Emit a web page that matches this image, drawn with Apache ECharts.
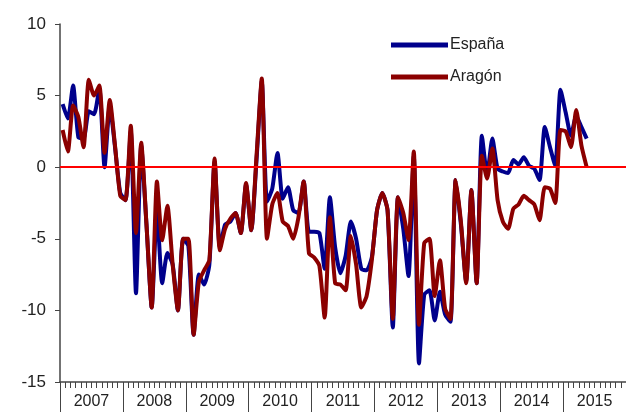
<!DOCTYPE html>
<html>
<head>
<meta charset="utf-8">
<script src="https://cdn.jsdelivr.net/npm/echarts@6/dist/echarts.min.js"></script>
<style>html,body{margin:0;padding:0;background:#fff;}#c{width:626px;height:412px;}</style>
</head>
<body>
<div id="c"></div>
<script>
var years = ['2007','2008','2009','2010','2011','2012','2013','2014','2015'];
var yTicks = [-15, -10, -5, 0, 5, 10];
var espana = [
  4.4, 3.4, 5.7, 2.1, 2.0, 3.9, 3.7, 5.5, 0.0, 4.3, 1.4, -1.8,
  -2.3, 2.5, -8.8, 1.5, -4.0, -9.8, -3.0, -8.1, -6.0, -6.8, -10.0, -5.0,
  -5.5, -11.7, -7.5, -8.2, -6.8, 0.4, -5.6, -4.0, -3.8, -3.2, -4.6, -1.2,
  -4.4, 0.5, 6.0, -2.4, -1.5, 1.0, -2.2, -1.4, -3.0, -3.2, -1.0, -4.5,
  -4.5, -4.6, -7.1, -2.1, -5.6, -7.4, -6.2, -3.8, -5.0, -7.1, -7.2, -6.3,
  -3.0, -1.8, -3.0, -11.2, -2.1, -4.3, -7.6, 0.8, -13.7, -8.9, -8.6, -10.7,
  -8.7, -10.3, -10.8, -0.9, -4.0, -8.0, -1.6, -8.1, 2.2, -0.5, 2.0, -0.1,
  -0.3, -0.4, 0.5, 0.2, 0.7, 0.1, -0.1, -0.9, 2.8, 1.4, 0.1, 5.4,
  3.8, 2.2, 3.6, 2.8, 2.0
];
var aragon = [
  2.6, 1.1, 4.3, 3.5, 1.4, 6.1, 5.0, 5.7, 1.0, 4.7, 1.5, -2.0,
  -2.3, 2.9, -4.6, 1.7, -4.0, -9.8, -1.0, -5.1, -2.7, -6.8, -10.0, -5.0,
  -5.0, -11.7, -8.0, -7.2, -6.5, 0.6, -5.8, -4.3, -3.6, -3.2, -4.6, -1.1,
  -4.4, 0.8, 6.2, -5.0, -2.6, -1.8, -3.8, -4.1, -5.0, -3.5, -1.0, -6.0,
  -6.3, -6.9, -10.5, -3.5, -8.1, -8.2, -8.6, -4.8, -6.8, -9.8, -9.0, -6.5,
  -3.0, -1.8, -3.0, -10.6, -2.1, -3.2, -5.1, 1.1, -11.0, -5.3, -5.0, -9.0,
  -6.5, -9.9, -10.6, -0.9, -3.8, -8.1, -1.6, -8.1, 0.8, -0.8, 1.3, -2.3,
  -3.8, -4.3, -2.9, -2.6, -2.0, -2.3, -2.6, -3.7, -1.4, -1.5, -2.5, 2.6,
  2.5, 1.4, 4.0, 1.5, 0.0
];
var months = [];
years.forEach(function (y) {
  for (var m = 1; m <= 12; m++) months.push(y + '-' + (m < 10 ? '0' + m : m));
});

var chart = echarts.init(document.getElementById('c'));
var font = 'Liberation Sans, Arial, sans-serif';
chart.setOption({
  animation: false,
  backgroundColor: '#ffffff',
  grid: { left: 60, right: -4, top: 24, bottom: 30 },
  legend: {
    orient: 'vertical', left: 386, top: 32, itemGap: 16,
    itemWidth: 57, itemHeight: 5, icon: 'rect',
    data: ['España', 'Aragón'],
    textStyle: { fontFamily: font, fontSize: 16, color: '#222', padding: [0, 0, 0, -3] }
  },
  xAxis: [{
    type: 'category', data: months, boundaryGap: true, position: 'bottom',
    axisLine: { onZero: false, lineStyle: { color: '#444', width: 1.5 } },
    axisTick: { show: true, interval: 0, length: 6, lineStyle: { color: '#444' } },
    axisLabel: { show: false }, splitLine: { show: false }
  }, {
    type: 'category', data: years, boundaryGap: true, position: 'bottom',
    axisLine: { show: false, onZero: false },
    axisTick: { show: true, length: 30, lineStyle: { color: '#444' } },
    axisLabel: { show: true, margin: 12, fontFamily: font, fontSize: 16, color: '#222' },
    splitLine: { show: false }
  }],
  yAxis: {
    type: 'value', min: yTicks[0], max: yTicks[yTicks.length - 1], interval: 5,
    axisLine: { show: true, onZero: false, lineStyle: { color: '#444', width: 1.5 } },
    axisTick: { show: true, length: 5, lineStyle: { color: '#444' } },
    axisLabel: { margin: 14, fontFamily: font, fontSize: 17, color: '#222' },
    splitLine: { show: false }
  },
  series: [{
    name: 'España', type: 'line', data: espana, xAxisIndex: 0,
    showSymbol: false, smooth: 0.2, z: 2,
    lineStyle: { color: '#00008c', width: 4 }, itemStyle: { color: '#00008c' }
  }, {
    name: 'Aragón', type: 'line', data: aragon, xAxisIndex: 0,
    showSymbol: false, smooth: 0.2, z: 3,
    lineStyle: { color: '#8b0000', width: 4 }, itemStyle: { color: '#8b0000' }
  }, {
    name: 'cero', type: 'line', data: [], xAxisIndex: 0, z: 5,
    markLine: {
      silent: true, symbol: 'none', label: { show: false },
      lineStyle: { color: '#ff0000', width: 2, type: 'solid' },
      data: [{ yAxis: 0 }]
    }
  }]
});
</script>
</body>
</html>
